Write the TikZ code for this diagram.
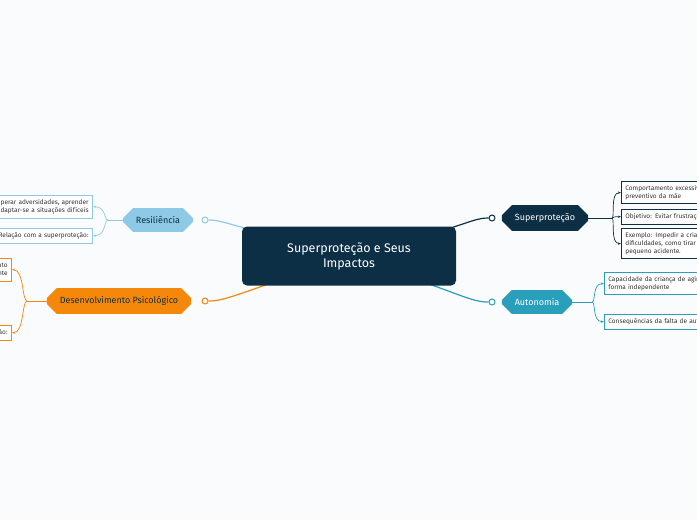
\documentclass[tikz,border=0pt]{standalone}
\usepackage{fontspec}
\setmainfont{Fira Sans}
\usetikzlibrary{shapes.misc,arrows.meta}
\definecolor{dk}{HTML}{0D2F45}
\definecolor{au}{HTML}{2A9FBC}
\definecolor{rs}{HTML}{8ECAE6}
\definecolor{og}{HTML}{F5880A}
\definecolor{bg}{HTML}{FAFBFC}
\tikzset{
 hex/.style={chamfered rectangle,chamfered rectangle xsep=2cm,chamfered rectangle sep=5pt,minimum height=21pt,font=\fontsize{9}{10}\selectfont,inner xsep=8pt},
 leaf/.style={draw,line width=0.8pt,fill=white,font=\fontsize{6.5}{8}\selectfont,align=left,anchor=north west,inner sep=4pt,text=black!80},
 rleaf/.style={leaf,anchor=north east,align=right},
 dot/.style={circle,draw,line width=1pt,fill=white,minimum size=6pt,inner sep=0pt},
 br/.style={line width=1.2pt},
 ar/.style={line width=0.7pt,-{Stealth[length=3pt]}}
}
\begin{document}
\begin{tikzpicture}[x=1pt,y=-1pt]
\useasboundingbox (0,0) rectangle (697,520);
\clip (0,0) rectangle (697,520);
\fill[bg] (0,0) rectangle (697,520);
\coordinate (cc) at (349,256);
% main branches
\node[hex,fill=dk,text=white] (s) at (545,218) {Superproteção};
\node[hex,fill=au,text=white] (a) at (537,302) {Autonomia};
\node[hex,fill=rs,text=dk] (r) at (158,220) {Resiliência};
\node[hex,fill=og,text=dk] (d) at (119,301) {Desenvolvimento Psicológico};
\node[dot,draw=dk] (sd) at (492,218) {};
\node[dot,draw=au] (ad) at (492,302) {};
\node[dot,draw=rs] (rd) at (205,220) {};
\node[dot,draw=og] (dd) at (205,301) {};
\draw[br,dk] (cc) .. controls (465,228) and (470,218) .. (sd);
\draw[br,au] (cc) .. controls (465,295) and (470,302) .. (ad);
\draw[br,rs] (cc) .. controls (235,228) and (225,220) .. (rd);
\draw[br,og] (cc) .. controls (235,295) and (225,301) .. (dd);
% central
\node[fill=dk,rounded corners=5pt,minimum width=214pt,minimum height=59pt,text=white,align=center,font=\fontsize{12.5}{15}\selectfont] (c) at (cc) {Superproteção e Seus\\Impactos};
% superprotecao leaves
\node[leaf,draw=dk,text width=110pt] (s1) at (621,181) {Comportamento excessivamente\\preventivo da mãe};
\node[leaf,draw=dk,text width=110pt] (s2) at (621,209) {Objetivo: Evitar frustrações};
\node[leaf,draw=dk,text width=110pt] (s3) at (621,228) {Exemplo: Impedir a criança de\\dificuldades, como tirar de\\pequeno acidente.};
\coordinate (sj) at (612,218);
\draw[dk,line width=0.8pt] (s.east) -- (sj);
\foreach \t in {s1,s2,s3}{\draw[ar,dk] (sj) .. controls (615,218) and (610,0|-\t.west) .. (\t.west);}
% autonomia leaves
\node[leaf,draw=au,text width=150pt] (a1) at (604,272) {Capacidade da criança de agir de\\forma independente};
\node[leaf,draw=au,text width=150pt] (a2) at (604,314) {Consequências da falta de autonomia};
\coordinate (aj) at (592,302);
\draw[au,line width=0.8pt] (a.east) -- (aj);
\foreach \t in {a1,a2}{\draw[ar,au] (aj) .. controls (596,302) and (592,0|-\t.west) .. (\t.west);}
% resiliencia leaves
\node[rleaf,draw=rs,text width=180pt] (r1) at (93,195) {Capacidade de superar adversidades, aprender\\e adaptar-se a situações difíceis};
\node[rleaf,draw=rs,text width=180pt] (r2) at (93,228) {Relação com a superproteção:};
\coordinate (rj) at (108,220);
\draw[rs,line width=0.8pt] (r.west) -- (rj);
\foreach \t in {r1,r2}{\draw[ar,rs] (rj) .. controls (104,220) and (106,0|-\t.east) .. (\t.east);}
% desenvolvimento leaves
\node[rleaf,draw=og,text width=150pt] (d1) at (12,258) {Impacto no desenvolvimento\\da criança e do adolescente};
\node[rleaf,draw=og,text width=150pt] (d2) at (12,325) {Relação com a superproteção:};
\coordinate (dj) at (27,301);
\draw[og,line width=0.8pt] (d.west) -- (dj);
\foreach \t in {d1,d2}{\draw[ar,og] (dj) .. controls (22,301) and (24,0|-\t.east) .. (\t.east);}
\end{tikzpicture}
\end{document}
